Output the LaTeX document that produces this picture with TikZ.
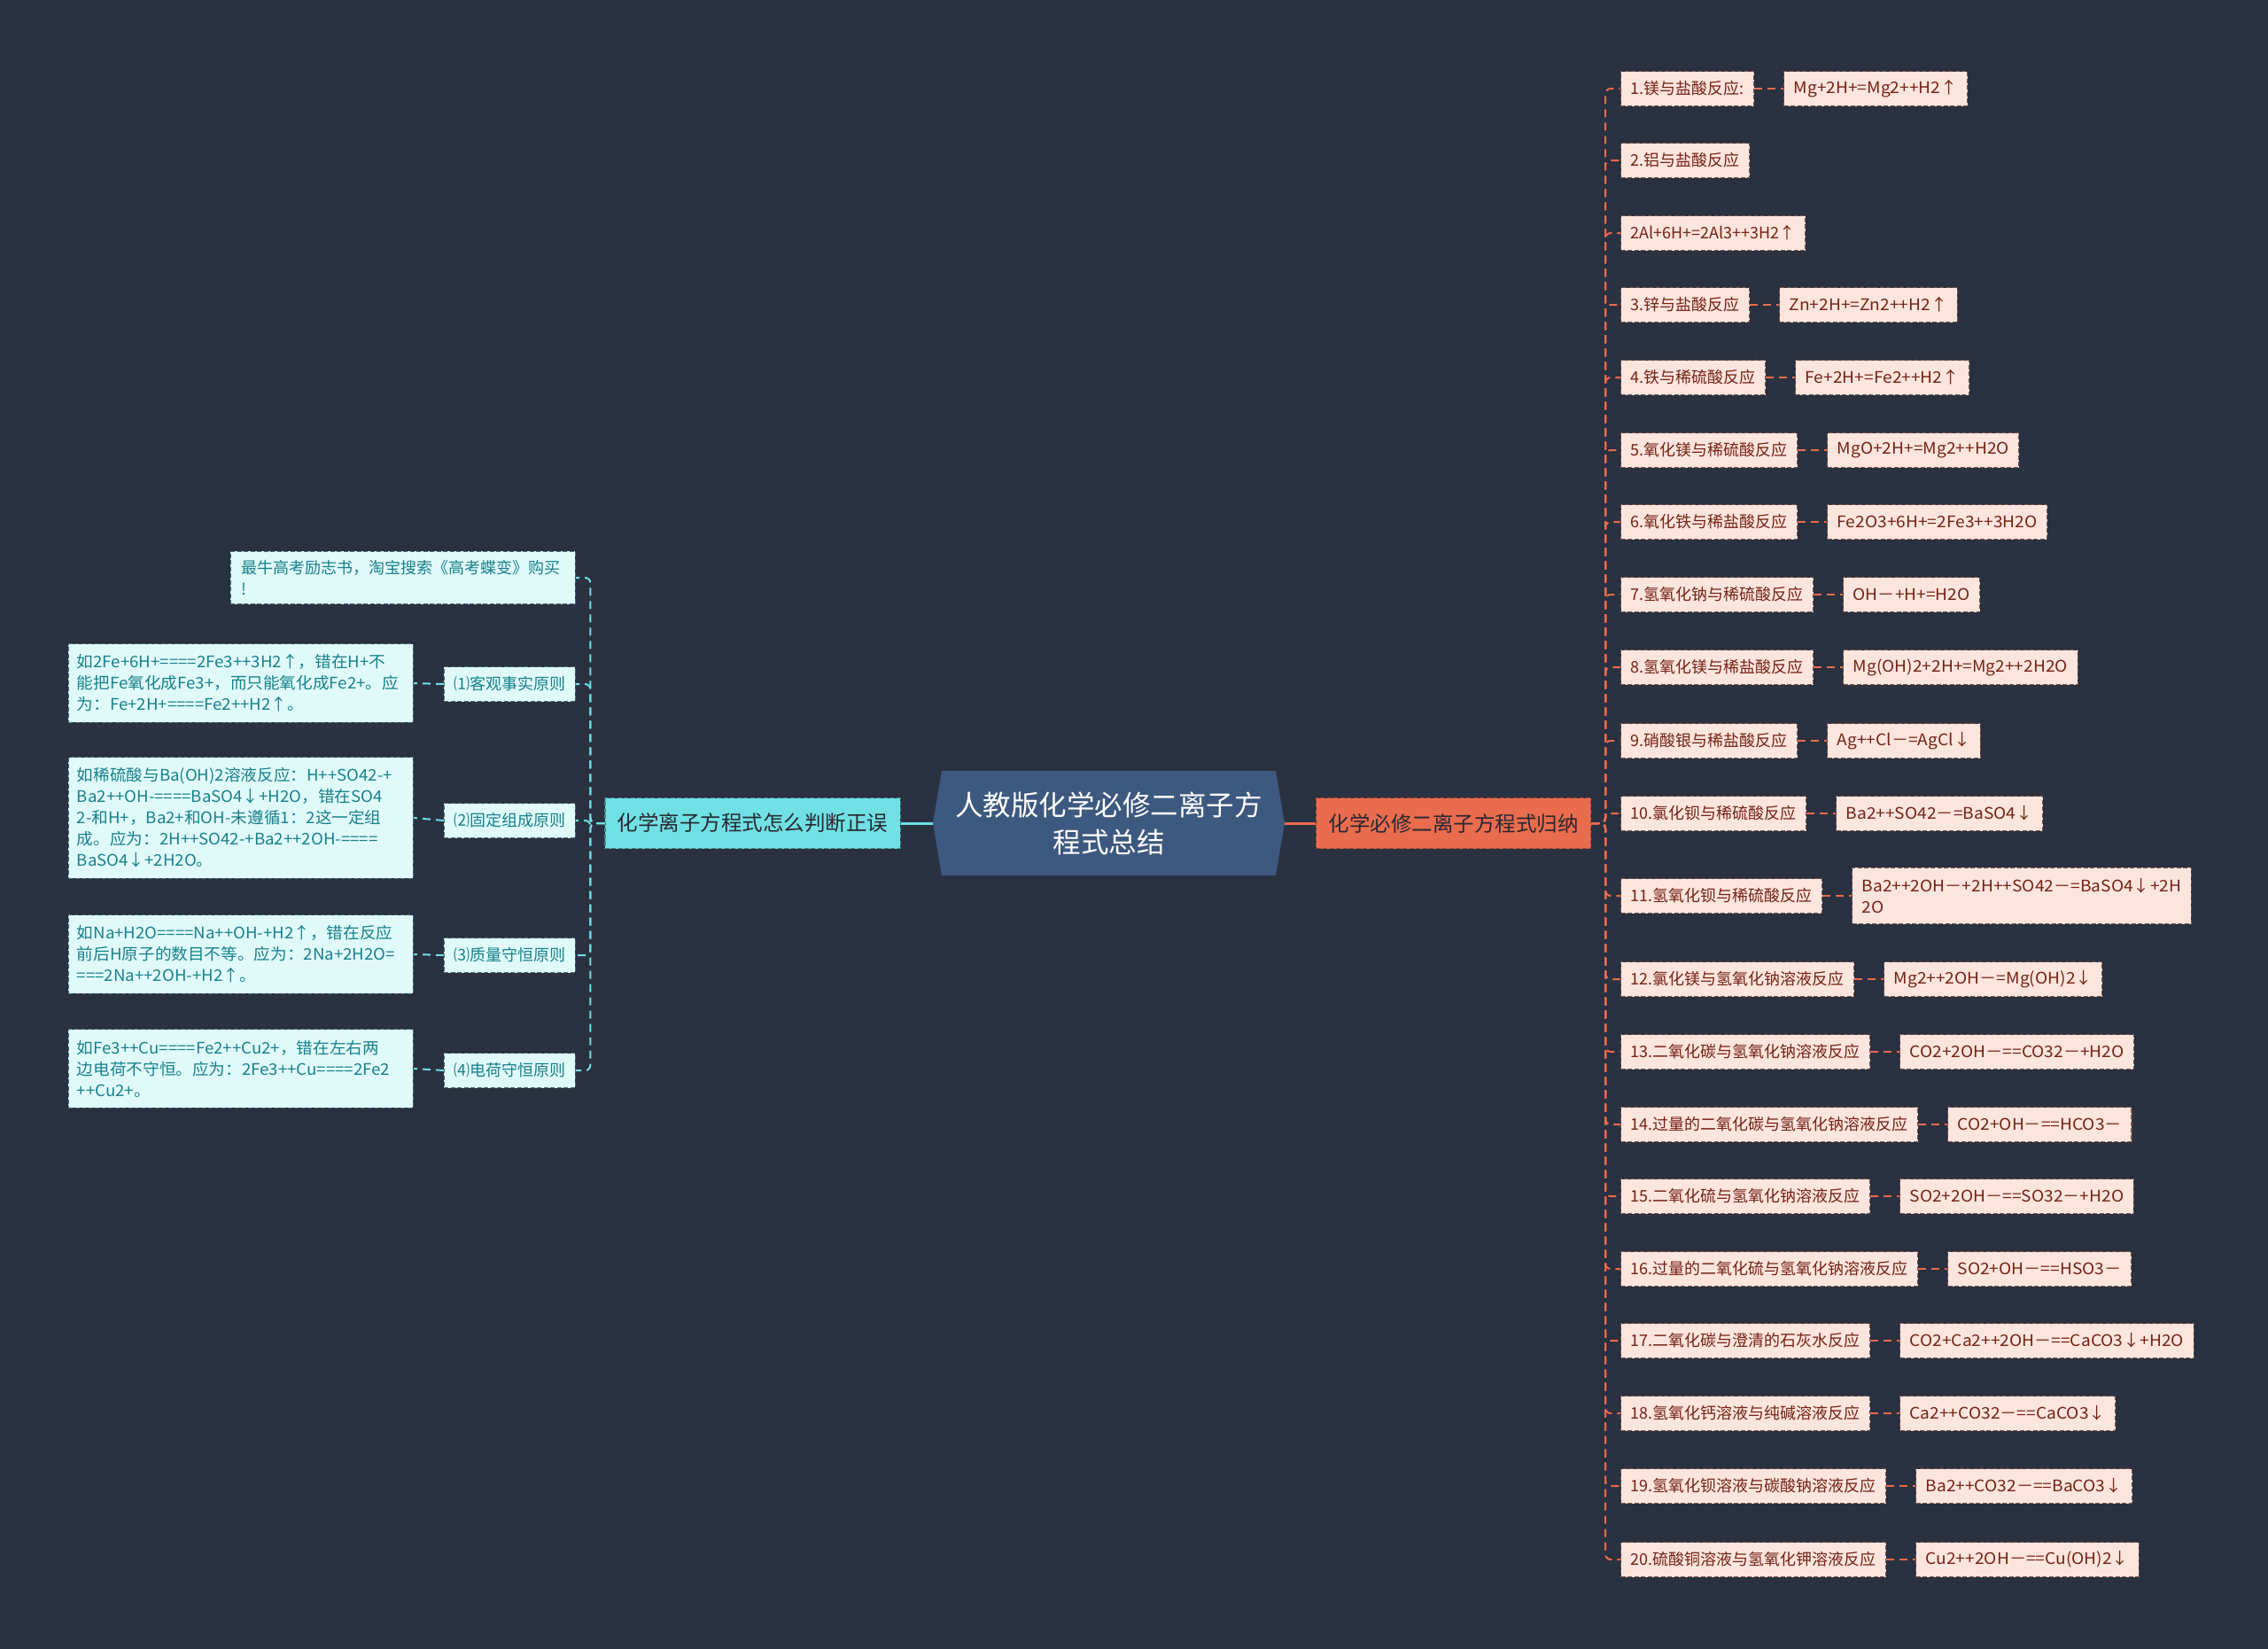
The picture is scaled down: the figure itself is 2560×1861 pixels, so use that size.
\documentclass[tikz,border=0pt]{standalone}
\usepackage{fontspec}
\setmainfont{Noto Sans CJK SC}
\newfontfamily\widefont[FakeStretch=1.065]{Noto Sans CJK SC}
\newfontfamily\midfont[FakeStretch=1.035]{Noto Sans CJK SC}
\newcommand\nohyphbrk{\exhyphenpenalty=10000\relax\hbadness=10000\relax}
\usetikzlibrary{calc}
\definecolor{bgc}{RGB}{42,49,64}
\definecolor{rootc}{RGB}{62,89,127}
\definecolor{lmainc}{RGB}{112,224,228}
\definecolor{rmainc}{RGB}{234,108,78}
\definecolor{lleafc}{RGB}{224,250,250}
\definecolor{rleafc}{RGB}{252,229,221}
\definecolor{ltextc}{RGB}{24,128,138}
\definecolor{rtextc}{RGB}{116,34,20}
\definecolor{lbordc}{RGB}{70,110,120}
\definecolor{rbordc}{RGB}{120,85,78}
\definecolor{mtextc}{RGB}{40,40,48}
\begin{document}
\begin{tikzpicture}[x=1pt,y=-1pt,
  nodebase/.style={draw, line width=1.1pt, dash pattern=on 5pt off 2.5pt, inner ysep=6pt, minimum height=39pt},
  rl/.style={nodebase, draw=rbordc, fill=rleafc, text=rtextc, font=\fontsize{18}{24}\selectfont, inner xsep=11pt, anchor=west},
  rr/.style={rl, align=left, font=\widefont\fontsize{18}{24}\selectfont},
  ll/.style={nodebase, draw=lbordc, fill=lleafc, text=ltextc, font=\fontsize{18}{24}\selectfont, inner xsep=11pt, anchor=east},
  lt/.style={ll, align=left, text width=370pt, inner xsep=9.5pt, inner ysep=12pt, font=\midfont\fontsize{18}{24}\selectfont\nohyphbrk},
  mainst/.style={draw, line width=1.1pt, dash pattern=on 5pt off 2.5pt, text=mtextc, font=\fontsize{23.5}{30}\selectfont, inner xsep=14pt, minimum height=57pt},
  rconn/.style={draw=rmainc, line width=2pt, dash pattern=on 9pt off 6pt, rounded corners=6pt},
  lconn/.style={draw=lmainc, line width=2pt, dash pattern=on 9pt off 6pt, rounded corners=6pt}]
\useasboundingbox[fill=bgc] (0,0) rectangle (2560,1861);

% root
\fill[rootc] (1063,870) -- (1440,870) -- (1450,929) -- (1440,988) -- (1063,988) -- (1053,929) -- cycle;
\node[text=white, font=\fontsize{31.5}{42}\selectfont, align=center, minimum width=397pt, minimum height=118pt, inner sep=0pt] (root) at (1251.5,929) {人教版化学必修二离子方\\程式总结};

% main branches
\node[mainst, draw=rmainc!70!black, fill=rmainc, anchor=west] (rmain) at (1485,929) {化学必修二离子方程式归纳};
\node[mainst, draw=lmainc!60!black, fill=lmainc, anchor=east] (lmain) at (1017,929) {化学离子方程式怎么判断正误};
\draw[rmainc, line width=3pt] (root.east) -- (rmain.west);
\draw[lmainc, line width=3pt] (root.west) -- (lmain.east);

% right leaves
\node[rl] (r1) at (1829,100) {1.镁与盐酸反应:};
\node[rl] (r2) at (1829,181) {2.铝与盐酸反应};
\node[rl] (r3) at (1829,263) {2Al+6H+=2Al3++3H2↑};
\node[rl] (r4) at (1829,344) {3.锌与盐酸反应};
\node[rl] (r5) at (1829,426) {4.铁与稀硫酸反应};
\node[rl] (r6) at (1829,508) {5.氧化镁与稀硫酸反应};
\node[rl] (r7) at (1829,589) {6.氧化铁与稀盐酸反应};
\node[rl] (r8) at (1829,671) {7.氢氧化钠与稀硫酸反应};
\node[rl] (r9) at (1829,753) {8.氢氧化镁与稀盐酸反应};
\node[rl] (r10) at (1829,836) {9.硝酸银与稀盐酸反应};
\node[rl] (r11) at (1829,918) {10.氯化钡与稀硫酸反应};
\node[rl] (r12) at (1829,1011) {11.氢氧化钡与稀硫酸反应};
\node[rl] (r13) at (1829,1105) {12.氯化镁与氢氧化钠溶液反应};
\node[rl] (r14) at (1829,1187) {13.二氧化碳与氢氧化钠溶液反应};
\node[rl] (r15) at (1829,1269) {14.过量的二氧化碳与氢氧化钠溶液反应};
\node[rl] (r16) at (1829,1350) {15.二氧化硫与氢氧化钠溶液反应};
\node[rl] (r17) at (1829,1432) {16.过量的二氧化硫与氢氧化钠溶液反应};
\node[rl] (r18) at (1829,1513) {17.二氧化碳与澄清的石灰水反应};
\node[rl] (r19) at (1829,1595) {18.氢氧化钙溶液与纯碱溶液反应};
\node[rl] (r20) at (1829,1677) {19.氢氧化钡溶液与碳酸钠溶液反应};
\node[rl] (r21) at (1829,1760) {20.硫酸铜溶液与氢氧化钾溶液反应};

\node[rr] (s1) at ($(r1.east)+(33,0)$) {Mg+2H+=Mg2++H2↑};
\node[rr] (s4) at ($(r4.east)+(33,0)$) {Zn+2H+=Zn2++H2↑};
\node[rr] (s5) at ($(r5.east)+(33,0)$) {Fe+2H+=Fe2++H2↑};
\node[rr] (s6) at ($(r6.east)+(33,0)$) {MgO+2H+=Mg2++H2O};
\node[rr] (s7) at ($(r7.east)+(33,0)$) {Fe2O3+6H+=2Fe3++3H2O};
\node[rr] (s8) at ($(r8.east)+(33,0)$) {OH－+H+=H2O};
\node[rr] (s9) at ($(r9.east)+(33,0)$) {Mg(OH)2+2H+=Mg2++2H2O};
\node[rr] (s10) at ($(r10.east)+(33,0)$) {Ag++Cl－=AgCl↓};
\node[rr] (s11) at ($(r11.east)+(33,0)$) {Ba2++SO42－=BaSO4↓};
\node[rr, inner ysep=12pt] (s12) at ($(r12.east)+(33,0)$) {Ba2++2OH－+2H++SO42－=BaSO4↓+2H\\2O};
\node[rr] (s13) at ($(r13.east)+(33,0)$) {Mg2++2OH－=Mg(OH)2↓};
\node[rr] (s14) at ($(r14.east)+(33,0)$) {CO2+2OH－==CO32－+H2O};
\node[rr] (s15) at ($(r15.east)+(33,0)$) {CO2+OH－==HCO3－};
\node[rr] (s16) at ($(r16.east)+(33,0)$) {SO2+2OH－==SO32－+H2O};
\node[rr] (s17) at ($(r17.east)+(33,0)$) {SO2+OH－==HSO3－};
\node[rr] (s18) at ($(r18.east)+(33,0)$) {CO2+Ca2++2OH－==CaCO3↓+H2O};
\node[rr] (s19) at ($(r19.east)+(33,0)$) {Ca2++CO32－==CaCO3↓};
\node[rr] (s20) at ($(r20.east)+(33,0)$) {Ba2++CO32－==BaCO3↓};
\node[rr] (s21) at ($(r21.east)+(33,0)$) {Cu2++2OH－==Cu(OH)2↓};

\foreach \i in {1,...,21} \draw[rconn] (rmain.east) -- ++(16,0) |- (r\i.west);
\foreach \i in {1,4,5,6,7,8,9,10,11,12,13,14,15,16,17,18,19,20,21} \draw[rconn] (r\i.east) -- (s\i.west);

% left side
\node[ll, align=left, text width=364pt, inner xsep=12.5pt, inner ysep=10pt] (l0) at (650,652) {最牛高考励志书，淘宝搜索《高考蝶变》购买\\!};
\node[ll] (l1) at (650,772) {⑴客观事实原则};
\node[ll] (l2) at (650,926) {⑵固定组成原则};
\node[ll] (l3) at (650,1078) {⑶质量守恒原则};
\node[ll] (l4) at (650,1208) {⑷电荷守恒原则};

\node[lt] (t1) at (467,771) {如2Fe+6H+====2Fe3++3H2↑，错在H+不\\能把Fe氧化成Fe3+，而只能氧化成Fe2+。应\\为：Fe+2H+====Fe2++H2↑。};
\node[lt] (t2) at (467,923) {如稀硫酸与Ba(OH)2溶液反应：H++SO42-+\\Ba2++OH-====BaSO4↓+H2O，错在SO4\\2-和H+，Ba2+和OH-未遵循1：2这一定组\\成。应为：2H++SO42-+Ba2++2OH-====\\BaSO4↓+2H2O。};
\node[lt] (t3) at (467,1077) {如Na+H2O====Na++OH-+H2↑，错在反应\\前后H原子的数目不等。应为：2Na+2H2O=\\===2Na++2OH-+H2↑。};
\node[lt] (t4) at (467,1206) {如Fe3++Cu====Fe2++Cu2+，错在左右两\\边电荷不守恒。应为：2Fe3++Cu====2Fe2\\++Cu2+。};

\foreach \i in {0,...,4} \draw[lconn] (lmain.west) -- ++(-16,0) |- (l\i.east);
\foreach \i in {1,...,4} \draw[lconn] (l\i.west) -- (t\i.east);
\end{tikzpicture}
\end{document}
